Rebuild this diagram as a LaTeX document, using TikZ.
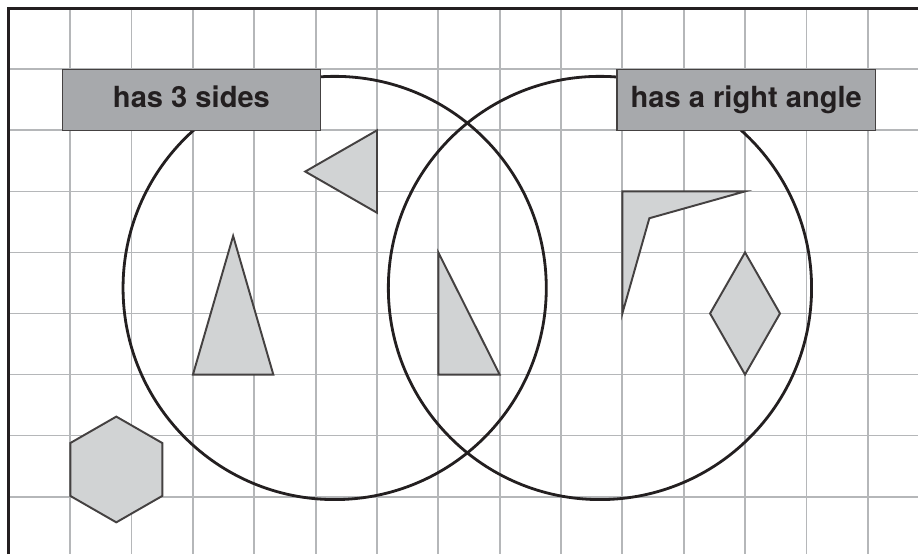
\documentclass[tikz,border=0pt]{standalone}
\usepackage{fontspec}
\setsansfont{TeX Gyre Heros}
\usepackage{xcolor}
\usetikzlibrary{positioning, calc}

\definecolor{labelgray}{HTML}{A7A9AC}
\definecolor{shapegray}{HTML}{D1D3D4}
\definecolor{gridgray}{HTML}{B5B7B9}
\definecolor{inkdark}{HTML}{231F20}

\begin{document}
\begin{tikzpicture}[
    x=1cm, y=0.9953cm,
    gridline/.style={draw=gridgray, line width=0.8pt},
    setline/.style={draw=inkdark, line width=1.3pt},
    shapebox/.style={fill=shapegray, draw=inkdark!85, line width=0.9pt},
    setlabel/.style={draw=inkdark!85, fill=labelgray, line width=0.7pt, minimum width=4.21cm, minimum height=0.9953cm, inner sep=0pt, font=\sffamily\bfseries\fontsize{13.5}{16}\selectfont, text=inkdark, text height=0.72em, text depth=0pt}
]

\useasboundingbox (-0.146,0.135) rectangle (14.82,-8.94);

% Grid
\foreach \i in {1,...,14}
    \draw[gridline] (\i,0) -- (\i,-8.94);
\foreach \j in {1,...,8}
    \draw[gridline] (0,-\j) -- (14.82,-\j);

% Frame
\draw[inkdark, line width=1.4pt] (0,-8.94) -- (0,0) -- (14.82,0);

% Sets
\draw[setline] (5.31,-4.582) circle[radius=3.45cm];
\draw[setline] (9.635,-4.582) circle[radius=3.45cm];

% Shapes
\filldraw[shapebox] (6,-2) -- (6,-3.35) -- (4.83,-2.675) -- cycle;
\filldraw[shapebox] (3,-6) -- (4.31,-6) -- (3.655,-3.73) -- cycle;
\filldraw[shapebox] (7,-4) -- (7,-6) -- (8,-6) -- cycle;
\filldraw[shapebox] (10,-3) -- (12,-3) -- (10.44,-3.44) -- (10,-5) -- cycle;
\filldraw[shapebox] (12,-4) -- (12.57,-5) -- (12,-6) -- (11.43,-5) -- cycle;
\filldraw[shapebox] (1.75,-6.689) -- (2.5,-7.122) -- (2.5,-7.988) -- (1.75,-8.421) -- (1,-7.988) -- (1,-7.122) -- cycle;

% Labels
\node[setlabel] (sides) at (2.975,-1.5) {has 3 sides};
\node[setlabel] (rightangle) at (12.02,-1.5) {has a right angle};

\end{tikzpicture}
\end{document}
